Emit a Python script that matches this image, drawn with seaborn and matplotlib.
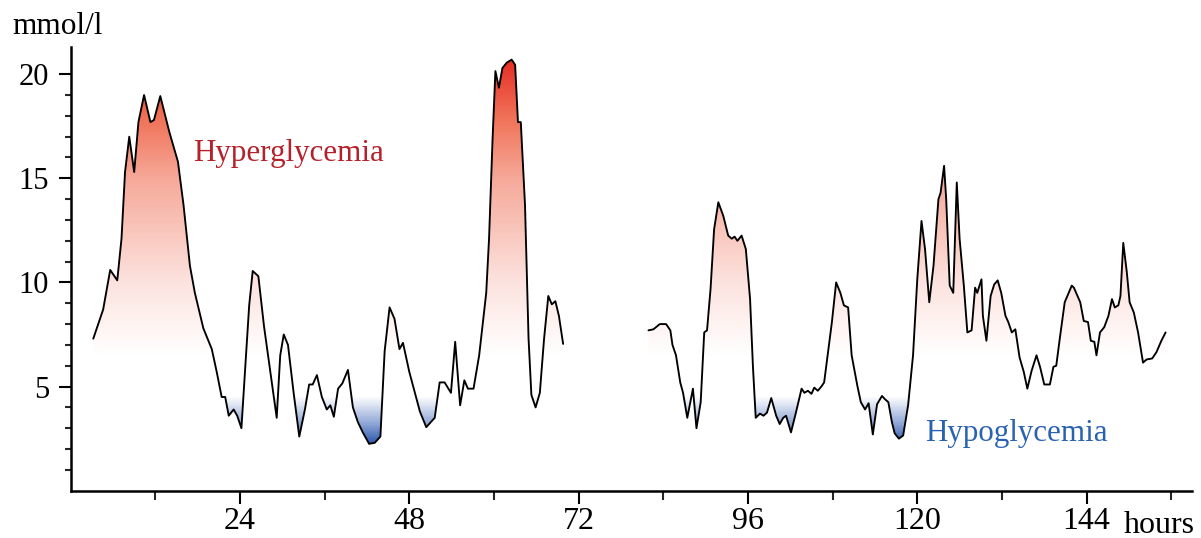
import numpy as np
import pandas as pd
import matplotlib
matplotlib.use("Agg")
import matplotlib.pyplot as plt
from matplotlib.colors import LinearSegmentedColormap, Normalize
from matplotlib.path import Path
import seaborn as sns

# Continuous glucose readings (hours, mmol/l), two recording periods
hours_a = [3.2, 4.6, 5.6, 6.6, 7.2, 7.7, 8.3, 9.0, 9.6, 10.4, 11.3, 11.8, 12.7, 14.0,
           15.2, 16.0, 16.9, 17.6, 18.8, 20.0, 20.7, 21.4, 21.9, 22.4, 23.1, 23.6, 24.2,
           24.7, 25.3, 25.8, 26.6, 27.4, 28.3, 29.2, 29.7, 30.2, 30.8, 31.6, 32.4, 33.2,
           33.8, 34.3, 34.9, 35.6, 36.3, 36.8, 37.3, 37.9, 38.5, 39.3, 40.0, 40.7, 41.4,
           42.3, 43.1, 43.9, 44.5, 45.2, 45.9, 46.6, 47.1, 48.0, 49.5, 50.4, 51.6, 52.3,
           53.0, 53.9, 54.5, 55.2, 55.8, 56.3, 57.1, 57.9, 58.9, 59.3, 59.8, 60.2, 60.7,
           61.2, 61.8, 62.5, 63.0, 63.4, 63.8, 64.4, 64.9, 65.3, 65.9, 66.5, 67.1, 67.7,
           68.2, 68.7, 69.2, 69.8]
glucose_a = [7.3, 8.7, 10.6, 10.1, 12.1, 15.3, 17.0, 15.3, 17.7, 19.0, 17.7, 17.8, 18.95, 17.2,
             15.8, 13.7, 10.8, 9.5, 7.8, 6.8, 5.7, 4.5, 4.5, 3.6, 3.9, 3.6, 3.0,
             5.7, 8.9, 10.55, 10.3, 7.9, 5.7, 3.5, 6.5, 7.5, 7.0, 4.7, 2.6, 3.9,
             5.1, 5.1, 5.55, 4.5, 3.9, 4.1, 3.55, 4.9, 5.15, 5.8, 4.0, 3.3, 2.8,
             2.25, 2.3, 2.6, 6.7, 8.8, 8.25, 6.8, 7.1, 5.7, 3.8, 3.05, 3.5, 5.2,
             5.2, 4.7, 7.15, 4.1, 5.3, 4.9, 4.9, 6.5, 9.5, 12.1, 16.9, 20.15, 19.35,
             20.3, 20.55, 20.7, 20.45, 17.7, 17.7, 13.7, 7.3, 4.6, 4.0, 4.7, 7.3, 9.35,
             8.95, 9.1, 8.4, 7.05]

hours_b = [81.9, 82.6, 83.5, 84.4, 85.0, 85.3, 85.8, 86.4, 86.8, 87.4, 88.2, 88.7, 89.3,
           89.8, 90.2, 90.7, 91.2, 91.8, 92.5, 93.2, 93.7, 94.1, 94.5, 95.1, 95.7, 96.3,
           96.7, 97.1, 97.7, 98.2, 98.7, 99.3, 100.0, 100.5, 101.0, 101.4, 102.1, 102.8,
           103.6, 104.0, 104.5, 105.0, 105.4, 105.9, 106.4, 106.8, 107.3, 107.9, 108.5,
           109.1, 109.6, 110.2, 110.7, 111.5, 112.0, 112.6, 113.1, 113.7, 114.3, 115.0,
           115.4, 115.9, 116.4, 116.8, 117.4, 118.0, 118.7, 119.4, 120.0, 120.6, 121.1,
           121.7, 122.3, 123.0, 123.3, 123.8, 124.1, 124.6, 125.1, 125.6, 126.0, 126.6,
           127.1, 127.7, 128.2, 128.5, 129.1, 129.3, 129.8, 130.4, 130.9, 131.4, 131.9,
           132.5, 132.9, 133.4, 133.9, 134.5, 135.1, 135.6, 136.2, 136.9, 137.4, 138.0,
           138.8, 139.3, 139.7, 140.2, 140.9, 141.9, 142.2, 143.1, 143.6, 144.2, 144.6,
           145.1, 145.4, 145.9, 146.5, 147.1, 147.6, 148.0, 148.5, 148.8, 149.2, 149.7,
           150.1, 150.7, 151.3, 152.0, 152.5, 153.3, 153.9, 154.6, 155.2]
glucose_b = [7.7, 7.75, 8.0, 8.0, 7.7, 7.0, 6.5, 5.2, 4.7, 3.5, 4.9, 3.0, 4.25,
             7.6, 7.7, 9.7, 12.55, 13.85, 13.2, 12.25, 12.1, 12.2, 12.0, 12.25, 11.6, 9.2,
             6.0, 3.5, 3.7, 3.6, 3.75, 4.45, 3.6, 3.2, 3.5, 3.6, 2.8, 3.75,
             4.9, 4.7, 4.8, 4.65, 4.95, 4.8, 5.0, 5.2, 6.5, 8.1, 10.0,
             9.5, 8.9, 8.8, 6.5, 5.05, 4.25, 3.9, 4.2, 2.7, 4.15, 4.55,
             4.4, 4.25, 3.3, 2.75, 2.5, 2.65, 4.1, 6.5, 10.15, 12.95, 11.6,
             9.05, 10.8, 14.0, 14.3, 15.6, 14.0, 9.85, 9.5, 14.8, 12.1, 9.85,
             7.6, 7.7, 9.75, 9.5, 10.15, 8.4, 7.2, 9.35, 9.9, 10.1, 9.5,
             8.4, 8.1, 7.6, 7.75, 6.4, 5.7, 4.9, 5.75, 6.5, 5.95, 5.1,
             5.1, 5.95, 6.0, 7.3, 9.05, 9.85, 9.75, 9.05, 8.15, 8.1, 7.2,
             7.15, 6.5, 7.6, 7.85, 8.4, 9.2, 8.8, 8.9, 9.35, 11.9, 10.5,
             9.05, 8.55, 7.6, 6.15, 6.3, 6.35, 6.65, 7.2, 7.6]

x_ticks = [24, 48, 72, 96, 120, 144]
x_minor = [12, 36, 60, 84, 108, 132, 156]
y_ticks = [5, 10, 15, 20]

df = pd.concat([
    pd.DataFrame({"hours": hours_a, "glucose": glucose_a, "segment": 0}),
    pd.DataFrame({"hours": hours_b, "glucose": glucose_b, "segment": 1}),
], ignore_index=True)

sns.set_theme(style="ticks")
plt.rcParams["font.family"] = ["Liberation Serif", "DejaVu Serif"]

W, H = 1201, 538
fig = plt.figure(figsize=(W / 100, H / 100), dpi=100)
ax = fig.add_axes([70.7 / W, 47.3 / H, 1121 / W, 444 / H])
ax.set_xlim(0, 158.9)
ax.set_ylim(0, 21.32)

# Colour scale for the fill: blue for low readings, red for high ones
ymax = 21.32
stops = [(0.0, "#1c42a0"), (2.2, "#2a54ac"), (3.2, "#8fa6d6"), (4.5, "#ffffff"),
         (6.5, "#ffffff"), (10.0, "#fce3df"), (15.0, "#f6a999"), (18.0, "#f07157"),
         (21.32, "#e3201a")]
cmap = LinearSegmentedColormap.from_list("glyc", [(v / ymax, c) for v, c in stops])
grad = np.linspace(0, ymax, 600).reshape(-1, 1)
im = ax.imshow(grad, extent=[0, 158.9, 0, ymax], origin="lower", aspect="auto",
               cmap=cmap, norm=Normalize(0, ymax), zorder=1, interpolation="bilinear")

paths = []
for _, seg in df.groupby("segment"):
    coll = ax.fill_between(seg["hours"], seg["glucose"], 5.5, color="none", lw=0)
    paths.extend(coll.get_paths())
im.set_clip_path(Path.make_compound_path(*paths), transform=ax.transData)

sns.lineplot(data=df, x="hours", y="glucose", units="segment", estimator=None,
             sort=False, color="black", lw=1.35, ax=ax, zorder=3,
             solid_joinstyle="round", solid_capstyle="round")

ax.set_xlabel("")
ax.set_ylabel("")
for s in ["top", "right"]:
    ax.spines[s].set_visible(False)
for s in ["left", "bottom"]:
    ax.spines[s].set_linewidth(1.8)
    ax.spines[s].set_color("black")

ax.set_xticks(x_ticks)
ax.set_xticklabels([str(t) for t in x_ticks])
ax.set_xticks(x_minor, minor=True)
ax.set_yticks(y_ticks)
ax.set_yticklabels([str(t) for t in y_ticks])
ax.set_yticks([v for v in range(1, 20) if v % 5], minor=True)
ax.tick_params(axis="x", which="major", length=9, width=1.5, labelsize=23, pad=2.5, colors="black")
ax.tick_params(axis="x", which="minor", length=6.5, width=1.5)
ax.tick_params(axis="y", which="major", length=8.5, width=1.5, labelsize=22, pad=7, colors="black")
ax.tick_params(axis="y", which="minor", length=4.5, width=1.5)

ax.text(17.3, 15.83, "Hyperglycemia", color="#b5212b", fontsize=22.3, va="baseline")
ax.text(121.1, 2.41, "Hypoglycemia", color="#2a62b2", fontsize=22.3, va="baseline")
fig.text(12 / W, 1 - 34 / H, "mmol/l", fontsize=22.5, va="baseline", color="black")
ax.annotate("hours", xy=(149.3, 0), xycoords=("data", "axes fraction"),
            xytext=(0, -(532.7 - 490.7)), textcoords="offset pixels",
            fontsize=23, va="baseline", ha="left", color="black")

fig.savefig("out.png", dpi=100)
